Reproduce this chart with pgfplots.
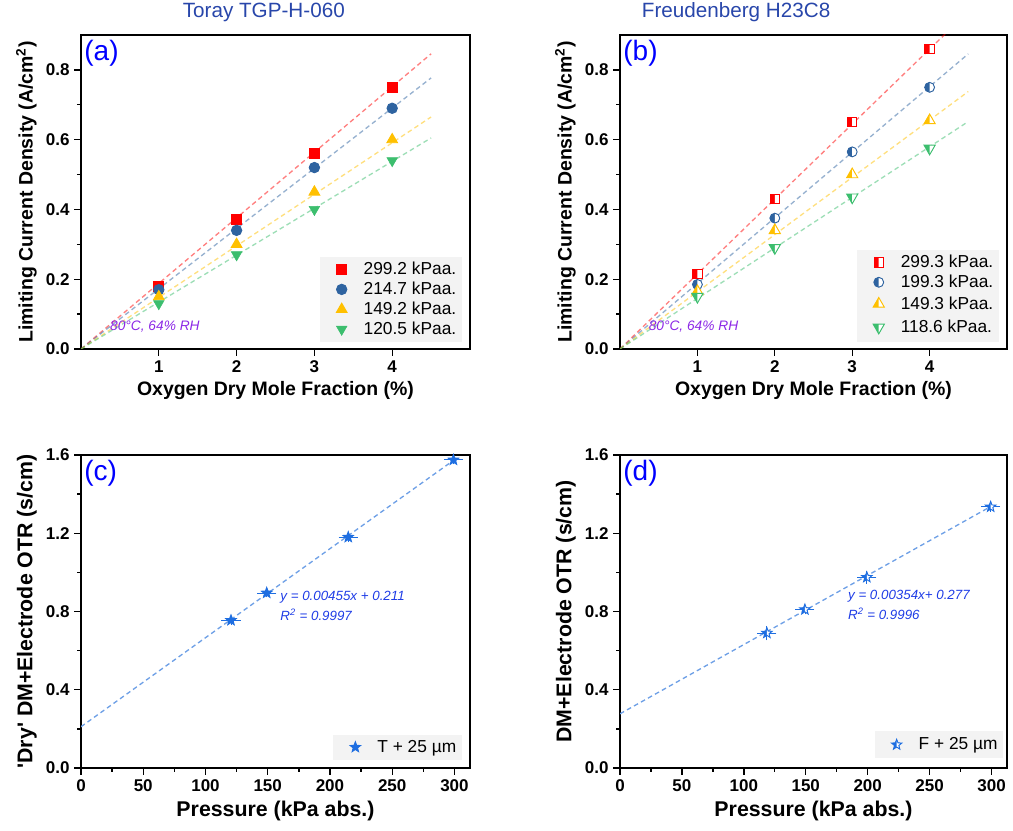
\documentclass[border=0pt]{standalone}
\usepackage{fontspec}
\setmainfont{Liberation Sans}[Ligatures=TeXOff]
\usepackage{pgfplots}
\pgfplotsset{compat=1.18}

\definecolor{cRed}{RGB}{255,0,0}
\definecolor{cBlue}{RGB}{46,99,160}
\definecolor{cYel}{RGB}{255,192,0}
\definecolor{cGrn}{RGB}{60,190,110}
\definecolor{cStar}{RGB}{30,110,225}
\definecolor{cFit}{RGB}{110,160,230}
\definecolor{cTitle}{RGB}{40,70,170}
\definecolor{cLet}{RGB}{0,0,255}
\definecolor{cAnn}{RGB}{30,60,230}
\definecolor{cPurp}{RGB}{140,40,230}
\definecolor{cLeg}{RGB}{243,243,243}

\newcommand\halfmark[1]{%
  #1\pgfusepathqfill
  \begin{pgfscope}%
    \pgfpathrectangle{\pgfqpoint{0pt}{-2\pgfplotmarksize}}{\pgfqpoint{2\pgfplotmarksize}{4\pgfplotmarksize}}%
    \pgfusepathqclip
    \pgfsetfillcolor{white}%
    #1\pgfusepathqfill
  \end{pgfscope}%
  #1\pgfusepathqstroke}
\newcommand\sqpath{\pgfpathrectangle{\pgfqpoint{-\pgfplotmarksize}{-\pgfplotmarksize}}{\pgfqpoint{2\pgfplotmarksize}{2\pgfplotmarksize}}}
\newcommand\cirpath{\pgfpathcircle{\pgfpointorigin}{\pgfplotmarksize}}
\newcommand\tripath{\pgfpathmoveto{\pgfqpointpolar{90}{1.1\pgfplotmarksize}}\pgfpathlineto{\pgfqpointpolar{210}{1.1\pgfplotmarksize}}\pgfpathlineto{\pgfqpointpolar{330}{1.1\pgfplotmarksize}}\pgfpathclose}
\newcommand\tridpath{\pgfpathmoveto{\pgfqpointpolar{270}{1.1\pgfplotmarksize}}\pgfpathlineto{\pgfqpointpolar{30}{1.1\pgfplotmarksize}}\pgfpathlineto{\pgfqpointpolar{150}{1.1\pgfplotmarksize}}\pgfpathclose}
\newcommand\starpath{%
 \pgfpathmoveto{\pgfqpointpolar{90}{\pgfplotmarksize}}%
 \pgfpathlineto{\pgfqpointpolar{126}{0.42\pgfplotmarksize}}%
 \pgfpathlineto{\pgfqpointpolar{162}{\pgfplotmarksize}}%
 \pgfpathlineto{\pgfqpointpolar{198}{0.42\pgfplotmarksize}}%
 \pgfpathlineto{\pgfqpointpolar{234}{\pgfplotmarksize}}%
 \pgfpathlineto{\pgfqpointpolar{270}{0.42\pgfplotmarksize}}%
 \pgfpathlineto{\pgfqpointpolar{306}{\pgfplotmarksize}}%
 \pgfpathlineto{\pgfqpointpolar{342}{0.42\pgfplotmarksize}}%
 \pgfpathlineto{\pgfqpointpolar{18}{\pgfplotmarksize}}%
 \pgfpathlineto{\pgfqpointpolar{54}{0.42\pgfplotmarksize}}%
 \pgfpathclose}
\pgfdeclareplotmark{halfsquare}{\halfmark{\sqpath}}
\pgfdeclareplotmark{halfcircle}{\halfmark{\cirpath}}
\pgfdeclareplotmark{halftri}{\halfmark{\tripath}}
\pgfdeclareplotmark{halftrid}{\halfmark{\tridpath}}
\pgfdeclareplotmark{halfstar}{\halfmark{\starpath}}
\pgfdeclareplotmark{fstar}{\starpath\pgfusepathqfillstroke}

\pgfplotsset{
  base/.style={
    scale only axis, anchor=south west,
    axis line style={line width=1.1pt},
    tick pos=left, tick align=outside,
    major tick length=5pt, minor tick length=3pt,
    every tick/.style={black, line width=1pt},
    tick label style={font=\fontsize{12.75}{15}\selectfont\bfseries},
    title style={font=\fontsize{15.5}{18}\selectfont, text=cTitle},
    legend style={fill=cLeg, draw=none, font=\fontsize{13}{15}\selectfont,
      anchor=south east, inner xsep=2pt, inner ysep=2pt, row sep=0pt},
    legend cell align=left,
    /pgf/number format/assume math mode=true,
    yticklabel style={/pgf/number format/fixed, /pgf/number format/fixed zerofill, /pgf/number format/precision=1},
  },
  top/.style={base, width=291.75pt, height=235.5pt, xmin=0, xmax=5, ymin=0, ymax=0.9,
    label style={font=\fontsize{14.6}{17}\selectfont\bfseries},
    xtick={1,2,3,4}, ytick={0,0.2,0.4,0.6,0.8}, minor y tick num=1,
    xlabel={Oxygen Dry Mole Fraction (\%)},
    ylabel={Limiting Current Density (A/cm\textsuperscript{2})},
    legend style={at={(0.979,0.022)}}},
  bot/.style={base, width=291.75pt, height=234.75pt, xmin=0, xmax=312.5, ymin=0, ymax=1.6,
    label style={font=\fontsize{16}{19}\selectfont\bfseries},
    xtick={0,50,100,150,200,250,300}, minor x tick num=1,
    ytick={0,0.4,0.8,1.2,1.6}, minor y tick num=1,
    xlabel={Pressure (kPa abs.)},
    legend style={at={(0.979,0.026)}}},
  fit/.style={forget plot, dash pattern=on 3.5pt off 2.5pt, line width=1pt, opacity=0.5},
  pm/.style={only marks, mark options={line width=0.7pt},
    legend image code/.code={\path[draw=none, fill=none] (0cm,0cm) -- (1.02cm,0cm);
      \draw[##1] plot coordinates {(0.51cm,0cm)};}},
}
\newcommand\letter[1]{\node[anchor=north west, inner sep=0pt, text=cLet, font=\fontsize{21}{25}\selectfont] at (rel axis cs:0.008,0.985) {#1};}
\newcommand\cond{\node[text=cPurp, font=\fontsize{10.3}{12}\selectfont\itshape] at (axis cs:0.95,0.063) {80°C, 64\% RH};}
\newcommand\ann{\fontsize{10}{12}\selectfont\itshape}

\begin{document}
\begin{tikzpicture}
\path[use as bounding box] (0,0) rectangle (759.75pt,623.25pt);

% (a)
\begin{axis}[top, at={(60.75pt,361.5pt)}, title={Toray TGP-H-060}, title style={at={(0.47,1)}}]
\addplot[fit, cRed] coordinates {(0,0) (4.5,0.846)};
\addplot[fit, cBlue] coordinates {(0,0) (4.5,0.777)};
\addplot[fit, cYel] coordinates {(0,0) (4.5,0.665)};
\addplot[fit, cGrn] coordinates {(0,0) (4.5,0.605)};
\addplot[pm, cRed, mark=square*, mark size=3.75pt] coordinates {(1,0.18) (2,0.37) (3,0.56) (4,0.75)};
\addlegendentry{299.2 kPaa.}
\addplot[pm, cBlue, mark=*, mark size=3.9pt] coordinates {(1,0.17) (2,0.34) (3,0.52) (4,0.69)};
\addlegendentry{214.7 kPaa.}
\addplot[pm, cYel, mark=triangle*, mark size=4.6pt] coordinates {(1,0.15) (2,0.30) (3,0.45) (4,0.60)};
\addlegendentry{149.2 kPaa.}
\addplot[pm, cGrn, mark=triangle*, mark size=4.6pt, mark options={rotate=180}] coordinates {(1,0.13) (2,0.27) (3,0.40) (4,0.54)};
\addlegendentry{120.5 kPaa.}
\letter{(a)}
\cond
\end{axis}

% (b)
\begin{axis}[top, at={(465pt,361.5pt)}, width=290.25pt, title={Freudenberg H23C8}, title style={at={(0.3,1)}}]
\addplot[fit, cRed] coordinates {(0,0) (4.5,0.967)};
\addplot[fit, cBlue] coordinates {(0,0) (4.5,0.846)};
\addplot[fit, cYel] coordinates {(0,0) (4.5,0.738)};
\addplot[fit, cGrn] coordinates {(0,0) (4.5,0.652)};
\addplot[pm, cRed, mark=halfsquare, mark size=3.5pt] coordinates {(1,0.215) (2,0.43) (3,0.65) (4,0.86)};
\addlegendentry{299.3 kPaa.}
\addplot[pm, cBlue, mark=halfcircle, mark size=3.7pt] coordinates {(1,0.185) (2,0.375) (3,0.565) (4,0.75)};
\addlegendentry{199.3 kPaa.}
\addplot[pm, cYel, mark=halftri, mark size=4.4pt] coordinates {(1,0.165) (2,0.34) (3,0.50) (4,0.655)};
\addlegendentry{149.3 kPaa.}
\addplot[pm, cGrn, mark=halftrid, mark size=4.4pt] coordinates {(1,0.15) (2,0.29) (3,0.435) (4,0.575)};
\addlegendentry{118.6 kPaa.}
\letter{(b)}
\cond
\end{axis}

% (c)
\begin{axis}[bot, at={(60.75pt,47.25pt)}, ylabel={'Dry' DM+Electrode OTR (s/cm)}]
\addplot[fit, cFit, opacity=1] coordinates {(0,0.211) (300,1.576)};
\addplot[pm, cStar, mark=fstar, mark size=4.1pt,
  error bars/.cd, x dir=both, x explicit, y dir=both, y explicit,
  error bar style={line width=0.6pt, cStar}, error mark options={mark size=2.5pt, line width=0.6pt}]
  coordinates {(120.5,0.755) +- (5,0.006) (149.2,0.895) +- (5,0.006) (214.7,1.18) +- (5,0.008) (299.2,1.575) +- (5,0.006)};
\addlegendentry{T + 25 µm}
\node[anchor=west, inner sep=0pt, text=cAnn, font=\ann] at (axis cs:160,0.874) {y = 0.00455x + 0.211};
\node[anchor=west, inner sep=0pt, text=cAnn, font=\ann] at (axis cs:160,0.785) {R\textsuperscript{2} = 0.9997};
\letter{(c)}
\end{axis}

% (d)
\begin{axis}[bot, at={(465pt,47.25pt)}, width=290.25pt, ylabel={DM+Electrode OTR (s/cm)}, legend style={at={(0.99,0.03)}}]
\addplot[fit, cFit, opacity=1] coordinates {(0,0.277) (300,1.339)};
\addplot[pm, cStar, mark=halfstar, mark size=4.1pt,
  error bars/.cd, x dir=both, x explicit, y dir=both, y explicit,
  error bar style={line width=0.6pt, cStar}, error mark options={mark size=2.5pt, line width=0.6pt}]
  coordinates {(118.6,0.69) +- (5,0.02) (149.3,0.81) +- (5,0.008) (199.3,0.975) +- (5,0.015) (299.3,1.335) +- (5,0.008)};
\addlegendentry{F + 25 µm}
\node[anchor=west, inner sep=0pt, text=cAnn, font=\ann] at (axis cs:184,0.88) {y = 0.00354x+ 0.277};
\node[anchor=west, inner sep=0pt, text=cAnn, font=\ann] at (axis cs:184,0.79) {R\textsuperscript{2} = 0.9996};
\letter{(d)}
\end{axis}
\end{tikzpicture}
\end{document}
